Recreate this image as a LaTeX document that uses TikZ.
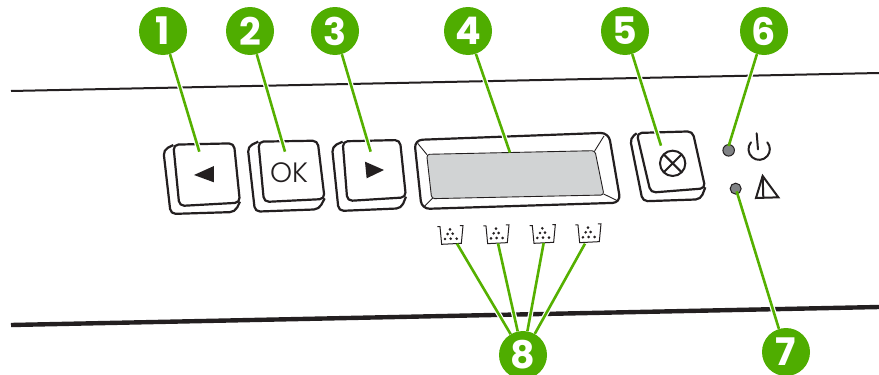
\documentclass[tikz,border=0pt]{standalone}
\usepackage{fontspec}
\setmainfont{Poppins}
\newfontfamily\oklight{Poppins Light}
\definecolor{hpgreen}{HTML}{4FAD00}
\definecolor{leadgreen}{HTML}{55B000}
\definecolor{ink}{HTML}{231F20}
\definecolor{lcd}{HTML}{D1D3D4}
\definecolor{led}{HTML}{808285}
\tikzset{
  badge/.style={circle,fill=hpgreen,text=white,minimum size=48pt,inner sep=0pt,font=\fontsize{38}{38}\selectfont\bfseries},
  halo/.style={white,line width=5pt},
  leader/.style={leadgreen,line width=2.6pt},
  rail/.style={ink,line cap=butt},
  keyline/.style={ink,line width=2.2pt,rounded corners=5pt,line join=round},
  thinline/.style={ink,line width=0.9pt},
  iconline/.style={ink,line width=2pt},
  ledlamp/.style={fill=led,draw=ink,line width=1pt},
  beakerline/.style={ink,line width=1pt},
  zoomA/.style={shift={(#1)},x=0.3333pt,y=-0.3333pt}
}
\newcommand{\beakerglyph}[2]{%
  \begin{scope}[shift={(#1,#2)}]
    \draw[beakerline] (112,350) -- (120,350) -- (125,403) -- (184,400) -- (189,347) -- (180,347);
    \foreach \p in {(150,358),(143,372),(158,371),(135,387),(152,386),(170,386)}
      \fill[ink] \p circle (4.3);
  \end{scope}
}
\begin{document}
\begin{tikzpicture}[x=1pt,y=-1pt]
\useasboundingbox[fill=white] (0,0) rectangle (879,375);
% housing lines
\coordinate (r1a) at (11,91); \coordinate (r1b) at (879,73);
\coordinate (r2a) at (11,325); \coordinate (r2b) at (879,307);
\draw[rail,line width=2pt] (r1a) -- (r1b);
\draw[rail,line width=4.4pt] (r2a) -- (r2b);

\begin{scope}[zoomA={140,100}]
  % key 1
  \draw[keyline,fill=white] (100,135) -- (70,150) -- (92,342) -- (285,336) -- (300,305);
  \draw[keyline,fill=white] (100,134) -- (282,130) -- (300,308) -- (118,318) -- cycle;
  \fill[ink] (162,225) -- (222,198) -- (222,247) -- cycle;
  \coordinate (t1) at (178,155);
  % key 2
  \draw[keyline,fill=white] (355,125) -- (323,140) -- (345,335) -- (537,328) -- (554,295);
  \draw[keyline,fill=white] (355,125) -- (533,122) -- (554,297) -- (372,306) -- cycle;
  \node[inner sep=0pt,text=ink,font=\fontsize{28}{28}\selectfont\oklight] (oklabel) at (447,218) {OK};
  \coordinate (t2) at (435,155);
  % key 3
  \draw[keyline,fill=white] (608,125) -- (576,140) -- (596,333) -- (784,325) -- (798,290);
  \draw[keyline,fill=white] (608,124) -- (780,120) -- (798,292) -- (622,303) -- cycle;
  \fill[ink] (675,185) -- (732,210) -- (680,235) -- cycle;
  \coordinate (t3) at (692,155);
\end{scope}

% display
\begin{scope}[zoomA={400,110}]
  \draw[keyline,rounded corners=8pt,line width=2.2pt,fill=white] (43,90) -- (626,68) -- (662,278) -- (65,297) -- cycle;
  \fill[lcd,rounded corners=3pt] (80,133) -- (585,122) -- (612,255) -- (95,266) -- cycle;
  \draw[thinline,rounded corners=3pt] (80,133) -- (585,122) -- (612,255) -- (95,266) -- cycle;
  \draw[thinline] (53,100) -- (81,134);
  \draw[thinline] (612,78) -- (584,123);
  \draw[thinline] (652,272) -- (611,252);
  \draw[thinline] (72,290) -- (98,264);
  \coordinate (t4) at (330,128);
  \beakerglyph{0}{0}
  \beakerglyph{138}{-2}
  \beakerglyph{277}{-3}
  \beakerglyph{414}{-5}
  \coordinate (b1) at (171,401);
  \coordinate (b2) at (294,400);
  \coordinate (b3) at (431,399);
  \coordinate (b4) at (555,401);
\end{scope}

% key 5, lamps, icons
\begin{scope}[zoomA={620,110}]
  \draw[keyline,fill=white] (50,70) -- (30,85) -- (68,274) -- (242,268) -- (256,232);
  \draw[keyline,fill=white] (50,69) -- (218,64) -- (256,235) -- (92,248) -- cycle;
  \draw[iconline] (158,160) circle (38);
  \draw[iconline] (131,133) -- (185,187) (185,133) -- (131,187);
  \coordinate (t5) at (123,107);
  \node[circle,ledlamp,minimum size=11.5pt,inner sep=0pt] (lamp1) at (326,121) {};
  \node[circle,ledlamp,minimum size=11pt,inner sep=0pt] (lamp2) at (347,236) {};
  \draw[iconline,line cap=round] (410,70) -- (414,118);
  \draw[iconline,line cap=round] (393,97) arc[start angle=220,end angle=-40,x radius=32,y radius=32];
  \draw[iconline,line join=miter] (428,198) -- (408,264) -- (475,262) -- cycle;
  \draw[iconline] (428,198) -- (430,264);
  \coordinate (t6) at (326,108);
  \coordinate (t7) at (350,244);
\end{scope}

% callouts
\node[badge] (c1) at (163,31) {1};
\node[badge] (c2) at (250,31) {2};
\node[badge] (c3) at (335,31) {3};
\node[badge] (c4) at (468,31) {4};
\node[badge] (c5) at (625,31) {5};
\node[badge] (c6) at (764,31) {6};
\node[badge] (c7) at (786,352) {7};
\node[badge] (c8) at (523,355) {8};

\foreach \a/\b in {c1/t1,c2/t2,c3/t3,c4/t4,c5/t5,c6/t6,c7/t7}
  \draw[halo,shorten >=4pt] (\a) -- (\b);
\foreach \b in {b1,b2,b3,b4}
  \draw[halo,shorten >=4pt] (c8) -- (\b);
\foreach \a/\b in {c1/t1,c2/t2,c3/t3,c4/t4,c5/t5,c6/t6,c7/t7}
  \draw[leader] (\a) -- (\b);
\foreach \b in {b1,b2,b3,b4}
  \draw[leader] (c8) -- (\b);
\end{tikzpicture}
\end{document}
